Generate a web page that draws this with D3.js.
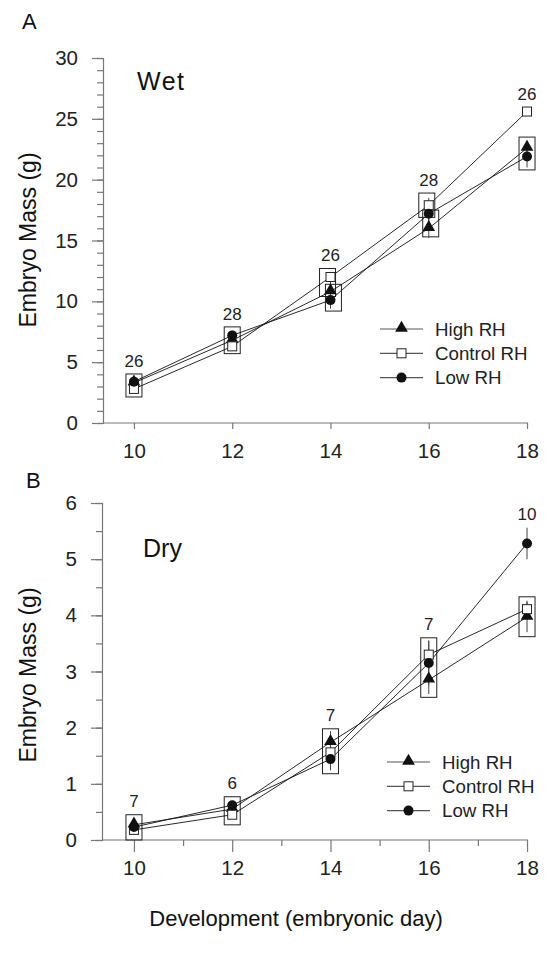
<!DOCTYPE html>
<html lang="en">
<head>
<meta charset="UTF-8">
<script src="https://cdnjs.cloudflare.com/ajax/libs/d3/7.8.5/d3.min.js"></script>
<style>
    body { margin: 0; background: #fff; }
    svg { font-family: "Liberation Sans", Arial, sans-serif; }
    .axis path, .axis line { stroke: #777; stroke-width: 1.2px; }
    .axis text { fill: #222; font-size: 20.5px; }
    .series-line { fill: none; stroke: #111; stroke-width: 0.9px; }
    .box { fill: none; stroke: #222; stroke-width: 1px; }
    .err { stroke: #444; stroke-width: 1px; }
    .nlabel { font-size: 17px; fill: #222; text-anchor: middle; }
</style>
</head>
<body>
<div class="chart"></div>
<script>
var days = [10, 12, 14, 16, 18];
var seriesNames = ["High RH", "Control RH", "Low RH"];

// panel A, wet mass (g)
var wetHigh = [3.3, 6.8, 10.8, 16.0, 22.6];
var wetControl = [2.8, 6.3, 12.0, 17.9, 25.6];
var wetLow = [3.4, 7.2, 10.1, 17.2, 21.9];
var wetHighSe = [0.3, 0.4, 0.8, 0.8, 0.6];
var wetControlSe = [0.3, 0.3, 0.4, 0.6, 0.3];
var wetLowSe = [0.3, 0.4, 0.7, 0.7, 0.9];
var wetN = [26, 28, 26, 28, 26];
// boxes: [day, low, high]
var wetBoxes = [[10, 2.14, 4.03], [12, 5.7, 7.9], [13.94, 10.4, 12.7], [14.06, 9.2, 11.4],
    [15.96, 16.9, 18.9], [16.04, 15.3, 17.5], [18, 20.8, 23.5]];

// panel B, dry mass (g)
var dryHigh = [0.27, 0.55, 1.74, 2.85, 3.97];
var dryControl = [0.18, 0.45, 1.56, 3.30, 4.11];
var dryLow = [0.23, 0.62, 1.44, 3.15, 5.28];
var dryHighSe = [0.04, 0.05, 0.2, 0.25, 0.27];
var dryControlSe = [0.04, 0.05, 0.12, 0.25, 0.15];
var dryLowSe = [0.04, 0.06, 0.2, 0.4, 0.28];
var dryN = [7, 6, 7, 7, 10];
var dryBoxes = [[10, 0, 0.45], [12, 0.27, 0.77], [14, 1.18, 1.98], [16, 2.54, 3.6], [18, 3.62, 4.33]];

var width = 547, height = 960;
var svg = d3.select(".chart").append("svg")
    .attr("width", width)
    .attr("height", height);

var x = d3.scaleLinear().domain([9.37, 18.02]).range([103, 528]);

function marker(sel, name) {
    if (name === "High RH") {
        sel.append("path").attr("d", d3.symbol().type(d3.symbolTriangle).size(70)())
            .attr("transform", "translate(0,-1)").attr("fill", "#111");
    } else if (name === "Control RH") {
        sel.append("rect").attr("x", -4.5).attr("y", -4.5).attr("width", 9).attr("height", 9)
            .attr("fill", "#fff").attr("stroke", "#222").attr("stroke-width", 1);
    } else {
        sel.append("circle").attr("r", 5).attr("fill", "#111");
    }
}

function drawPanel(opt) {
    var y = d3.scaleLinear().domain([0, opt.ymax]).range(opt.yRange);
    var g = svg.append("g");

    // y axis, major + minor ticks
    g.append("g").attr("class", "axis")
        .attr("transform", "translate(" + opt.yAxisX + ",0)")
        .call(d3.axisLeft(y).tickValues(d3.range(0, opt.ymax + 0.001, opt.minor)).tickSize(6).tickFormat(""));
    g.append("g").attr("class", "axis")
        .attr("transform", "translate(" + opt.yAxisX + ",0)")
        .call(d3.axisLeft(y).tickValues(d3.range(0, opt.ymax + 0.001, opt.major))
            .tickSize(11).tickSizeOuter(0).tickPadding(14).tickFormat(d3.format("d")))
        .call(function(a) { a.select(".domain").remove(); });

    // x axis
    var xa = g.append("g").attr("class", "axis").attr("transform", "translate(0," + opt.xAxisY + ")");
    if (opt.xMinor) {
        xa.call(d3.axisBottom(x).tickValues([11, 13, 15, 17]).tickSize(6).tickSizeOuter(0).tickFormat(""));
        xa.select(".domain").remove();
    }
    g.append("g").attr("class", "axis").attr("transform", "translate(0," + opt.xAxisY + ")")
        .call(d3.axisBottom(x).tickValues(days).tickSize(opt.xTick).tickSizeOuter(0).tickPadding(20 - opt.xTick))
        .call(function(a) { a.select(".domain").attr("d", "M" + opt.yAxisX + ",0H" + x.range()[1]); });

    // boxes
    g.selectAll(".box").data(opt.boxes).enter().append("rect")
        .attr("class", "box")
        .attr("x", function(d) { return x(d[0]) - 8; })
        .attr("width", 16)
        .attr("y", function(d) { return y(d[2]); })
        .attr("height", function(d) { return y(d[1]) - y(d[2]); });

    var series = seriesNames.map(function(name, k) {
        return { name: name, values: opt.values[k], se: opt.se[k] };
    });

    // error bars
    series.forEach(function(s) {
        g.selectAll(null).data(s.values).enter().append("line")
            .attr("class", "err")
            .attr("x1", function(d, i) { return x(days[i]); })
            .attr("x2", function(d, i) { return x(days[i]); })
            .attr("y1", function(d, i) { return y(d + s.se[i]); })
            .attr("y2", function(d, i) { return y(d - s.se[i]); });
    });

    var line = d3.line()
        .x(function(d, i) { return x(days[i]); })
        .y(function(d) { return y(d); });
    series.forEach(function(s) {
        g.append("path").datum(s.values).attr("class", "series-line").attr("d", line);
    });
    series.forEach(function(s) {
        s.values.forEach(function(v, i) {
            var m = g.append("g").attr("transform", "translate(" + x(days[i]) + "," + y(v) + ")");
            marker(m, s.name);
        });
    });

    // sample sizes above each day
    g.selectAll(".nlabel").data(opt.n).enter().append("text")
        .attr("class", "nlabel")
        .attr("x", function(d, i) { return x(days[i]); })
        .attr("y", function(d, i) {
            var top = Infinity;
            opt.boxes.forEach(function(b) { if (Math.round(b[0]) === days[i]) top = Math.min(top, y(b[2])); });
            series.forEach(function(s) { top = Math.min(top, y(s.values[i] + s.se[i]), y(s.values[i]) - 5); });
            return top - opt.nGap;
        })
        .text(function(d) { return d; });

    // panel letter and title
    g.append("text").attr("x", opt.letterX).attr("y", opt.letterY)
        .attr("font-size", 22).attr("fill", "#111").text(opt.letter);
    g.append("text").attr("x", opt.titleX).attr("y", opt.titleY)
        .attr("font-size", 25).attr("fill", "#111")
        .attr("letter-spacing", opt.titleSpacing).text(opt.title);

    // y axis title
    g.append("text")
        .attr("transform", "translate(36," + opt.yTitleY + ") rotate(-90)")
        .attr("text-anchor", "middle").attr("font-size", 23).attr("fill", "#111")
        .text("Embryo Mass (g)");

    // legend
    var lg = g.append("g").attr("transform", "translate(" + opt.legX + "," + opt.legY + ")");
    seriesNames.forEach(function(name, k) {
        var row = lg.append("g").attr("transform", "translate(0," + (k * 24.3) + ")");
        row.append("line").attr("x1", 0).attr("x2", 43).attr("stroke", "#555").attr("stroke-width", 1.2);
        var m = row.append("g").attr("transform", "translate(21.5,0)");
        marker(m, name);
        row.append("text").attr("x", 55).attr("y", 6.5).attr("font-size", 18.7).attr("fill", "#222").text(name);
    });
}

drawPanel({
    ymax: 30, major: 5, minor: 1, yRange: [423, 58], yAxisX: 103, xAxisY: 423,
    xTick: 6, xMinor: false,
    values: [wetHigh, wetControl, wetLow], se: [wetHighSe, wetControlSe, wetLowSe],
    boxes: wetBoxes, n: wetN, nGap: 7,
    letter: "A", letterX: 22, letterY: 29, title: "Wet", titleX: 137, titleSpacing: 1.5, titleY: 90, yTitleY: 240,
    legX: 380, legY: 329
});

drawPanel({
    ymax: 6, major: 1, minor: 0.5, yRange: [840, 503], yAxisX: 102, xAxisY: 840,
    xTick: 12, xMinor: true,
    values: [dryHigh, dryControl, dryLow], se: [dryHighSe, dryControlSe, dryLowSe],
    boxes: dryBoxes, n: dryN, nGap: 8,
    letter: "B", letterX: 26, letterY: 488, title: "Dry", titleX: 143, titleSpacing: 0, titleY: 557, yTitleY: 675,
    legX: 387, legY: 762
});

svg.append("text")
    .attr("x", 296).attr("y", 926)
    .attr("text-anchor", "middle").attr("font-size", 22).attr("fill", "#111")
    .text("Development (embryonic day)");
</script>
</body>
</html>
